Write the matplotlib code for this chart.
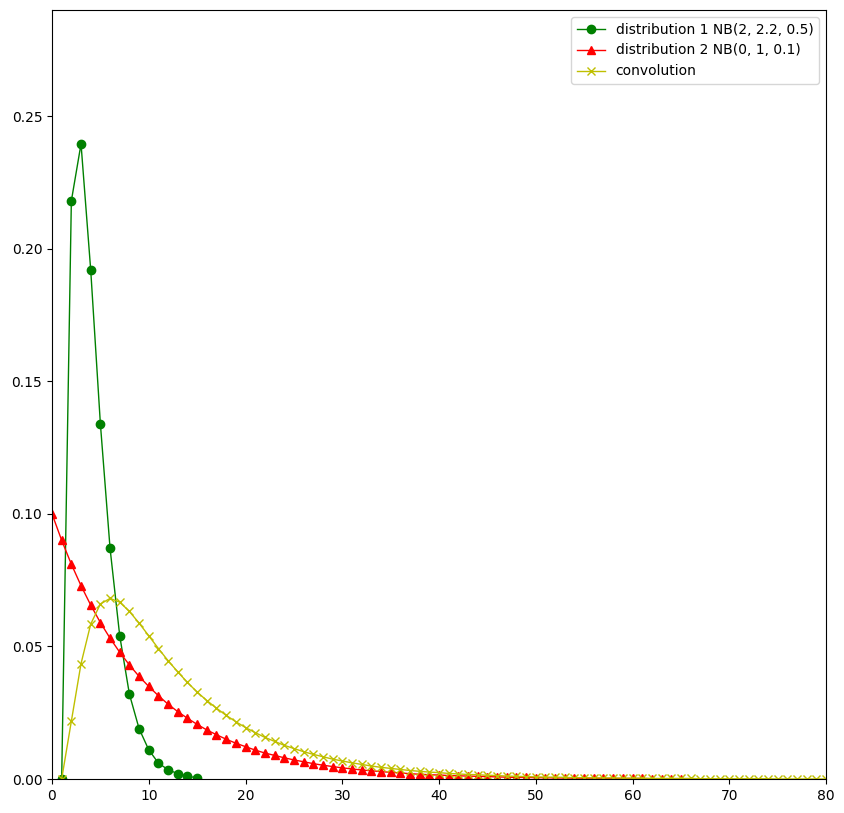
import matplotlib
matplotlib.use("Agg")
import matplotlib.pyplot as plt

# distribution 1 NB(2, 2.2, 0.5), support starts at x = 1
x1 = list(range(1, 16))
p1 = [0.0, 0.218, 0.2395, 0.192, 0.134, 0.087, 0.054, 0.032, 0.019,
      0.011, 0.006, 0.0035, 0.002, 0.001, 0.0005]

# distribution 2 NB(0, 1, 0.1), x = 0..65
x2 = list(range(0, 66))
p2 = [0.1, 0.09, 0.081, 0.0729, 0.0656, 0.059, 0.0531, 0.0478, 0.043, 0.0387,
      0.0349, 0.0314, 0.0282, 0.0254, 0.0229, 0.0206, 0.0185, 0.0167, 0.015, 0.0135,
      0.0122, 0.0109, 0.0098, 0.0089, 0.008, 0.0072, 0.0065, 0.0058, 0.0052, 0.0047,
      0.0042, 0.0038, 0.0034, 0.0031, 0.0028, 0.0025, 0.0023, 0.002, 0.0018, 0.0016,
      0.0015, 0.0013, 0.0012, 0.0011, 0.001, 0.0009, 0.0008, 0.0007, 0.0006, 0.0006,
      0.0005, 0.0005, 0.0004, 0.0004, 0.0003, 0.0003, 0.0003, 0.0002, 0.0002, 0.0002,
      0.0002, 0.0002, 0.0001, 0.0001, 0.0001, 0.0001]

# convolution, x = 1..80
xc = list(range(1, 81))
pc = [0.0, 0.0218, 0.0435, 0.0584, 0.066, 0.0681, 0.0667, 0.0632, 0.0588, 0.054,
      0.0492, 0.0446, 0.0404, 0.0364, 0.0328, 0.0296, 0.0267, 0.024, 0.0216, 0.0194,
      0.0175, 0.0157, 0.0142, 0.0127, 0.0115, 0.0103, 0.0093, 0.0084, 0.0075, 0.0068,
      0.0061, 0.0055, 0.0049, 0.0044, 0.004, 0.0036, 0.0032, 0.0029, 0.0026, 0.0024,
      0.0021, 0.0019, 0.0017, 0.0016, 0.0014, 0.0013, 0.0011, 0.001, 0.0009, 0.0008,
      0.0007, 0.0007, 0.0006, 0.0005, 0.0005, 0.0004, 0.0004, 0.0004, 0.0003, 0.0003,
      0.0003, 0.0002, 0.0002, 0.0002, 0.0002, 0.0002, 0.0001, 0.0001, 0.0001, 0.0001,
      0.0001, 0.0001, 0.0001, 0.0001, 0.0, 0.0, 0.0, 0.0, 0.0, 0.0]

fig = plt.figure(figsize=(8.44, 8.13), dpi=100)
ax = fig.add_axes([52 / 844, 1 - 779 / 813, (826 - 52) / 844, (779 - 10) / 813])

ax.plot(x1, p1, 'go-', lw=1, label="distribution 1 NB(2, 2.2, 0.5)")
ax.plot(x2, p2, 'r^-', lw=1, label="distribution 2 NB(0, 1, 0.1)")
ax.plot(xc, pc, 'yx-', lw=1, label="convolution")

ax.set_xlim(0, 80)
ax.set_ylim(0, 0.29)
ax.legend(loc="upper right")

plt.savefig("out.png", dpi=100)
